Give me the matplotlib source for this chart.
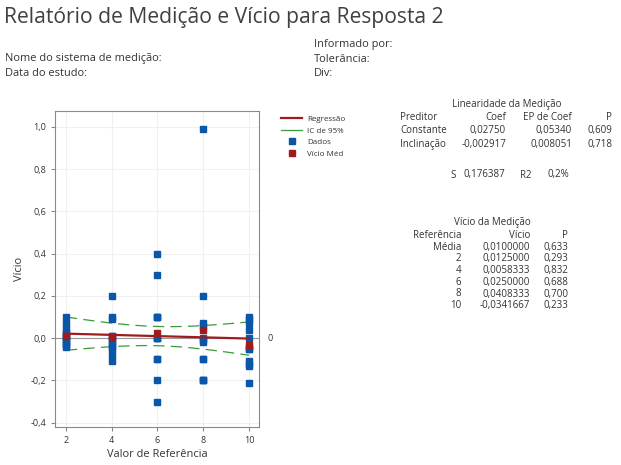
import numpy as np
import matplotlib
matplotlib.use("Agg")
import matplotlib.pyplot as plt
from matplotlib.lines import Line2D

plt.rcParams['font.family'] = ['Open Sans', 'DejaVu Sans']

# ---- data ----
references = [2, 4, 6, 8, 10]
bias_ref2 = [0.10, 0.07, 0.05, 0.03, 0.02, 0.01, 0.00, -0.01, -0.02, -0.03, -0.03, -0.04]
bias_ref4 = [0.20, 0.10, 0.09, 0.01, 0.01, -0.01, -0.02, -0.03, -0.04, -0.05, -0.08, -0.11]
bias_ref6 = [0.40, 0.30, 0.10, 0.10, 0.10, 0.00, 0.00, 0.00, -0.10, -0.10, -0.20, -0.30]
bias_ref8 = [0.99, 0.20, 0.07, 0.06, 0.00, -0.01, -0.02, -0.10, -0.10, -0.20, -0.20, -0.20]
bias_ref10 = [0.10, 0.09, 0.07, 0.04, 0.00, -0.04, -0.05, -0.05, -0.11, -0.12, -0.13, -0.21]
avg_bias = [0.0125, 0.0058333, 0.0250, 0.0408333, -0.0341667]

const_coef = 0.02750
slope_coef = -0.002917
s_value = 0.176387
t_crit = 2.0017

xticks = [2, 4, 6, 8, 10]
yticks = [-0.4, -0.2, 0.0, 0.2, 0.4, 0.6, 0.8, 1.0]
ytick_labels = ["-0,4", "-0,2", "0,0", "0,2", "0,4", "0,6", "0,8", "1,0"]

lin_header = ["Preditor", "Coef", "EP de Coef", "P"]
lin_rows = [["Constante", "0,02750", "0,05340", "0,609"],
            ["Inclinação", "-0,002917", "0,008051", "0,718"]]
bias_header = ["Referência", "Vício", "P"]
bias_rows = [["Média", "0,0100000", "0,633"],
             ["2", "0,0125000", "0,293"],
             ["4", "0,0058333", "0,832"],
             ["6", "0,0250000", "0,688"],
             ["8", "0,0408333", "0,700"],
             ["10", "-0,0341667", "0,233"]]

W, H = 621, 465
fig = plt.figure(figsize=(W / 100, H / 100), dpi=100)
fig.patch.set_facecolor('white')

def px(x, y):
    return x / W, 1 - y / H

txt_col = '#333333'
blue = '#0a56a8'
red = '#a01c1c'
green = '#3c9a3c'

# Title & header
fig.text(*px(4, 18), "Relatório de Medição e Vício para Resposta 2", fontsize=15.2,
         color='#404040', va='center', ha='left')
for yy, s in [(58, "Nome do sistema de medição:"), (73, "Data do estudo:")]:
    fig.text(*px(5, yy), s, fontsize=7.9, color=txt_col, va='center')
for yy, s in [(44, "Informado por:"), (59, "Tolerância:"), (73, "Div:")]:
    fig.text(*px(314, yy), s, fontsize=7.9, color=txt_col, va='center')

# Axes
ax = fig.add_axes([55 / W, (H - 427) / H, 204 / W, 316 / H])
ax.set_xlim(1.52, 10.44)
ax.set_ylim(-0.42, 1.075)
ax.set_xticks(xticks)
ax.set_xticklabels([str(v) for v in xticks])
ax.set_yticks(yticks)
ax.set_yticklabels(ytick_labels)
ax.tick_params(labelsize=6.5, colors=txt_col, length=3, color='#888888')
for sp in ax.spines.values():
    sp.set_color('#8a8a8a')
    sp.set_linewidth(0.8)
ax.grid(True, color='#f0f0f0', linewidth=0.8)
ax.set_axisbelow(True)
ax.set_xlabel("Valor de Referência", fontsize=7.9, color=txt_col, labelpad=3)
ax.set_ylabel("Vício", fontsize=7.9, color=txt_col, labelpad=4)

ax.axhline(0, color='#999999', linewidth=0.8, zorder=1)
ax.text(1.04, 0, "0", transform=ax.get_yaxis_transform(), fontsize=6.5,
        color=txt_col, va='center', ha='left')

all_bias = [bias_ref2, bias_ref4, bias_ref6, bias_ref8, bias_ref10]
for r, vals in zip(references, all_bias):
    ax.plot([r] * len(vals), vals, linestyle='none', marker='s', markersize=4.3,
            color=blue, zorder=3)

xs = np.linspace(references[0], references[-1], 100)
fit = const_coef + slope_coef * xs
n = sum(len(v) for v in all_bias)
xbar = np.mean(references)
sxx = sum(len(v) * (r - xbar) ** 2 for r, v in zip(references, all_bias))
se = s_value * np.sqrt(1 / n + (xs - xbar) ** 2 / sxx)
ax.plot(xs, fit + t_crit * se, color=green, linewidth=0.9, dashes=(9, 5), zorder=2)
ax.plot(xs, fit - t_crit * se, color=green, linewidth=0.9, dashes=(9, 5), zorder=2)
ax.plot(xs, fit, color=red, linewidth=1.6, zorder=4)
ax.plot(references, avg_bias, linestyle='none', marker='s', markersize=4.3,
        color=red, zorder=5)

# Legend
leg_items = [
    Line2D([0], [0], color=red, linewidth=1.6),
    Line2D([0], [0], color=green, linewidth=0.9),
    Line2D([0], [0], linestyle='none', marker='s', markersize=4, color=blue),
    Line2D([0], [0], linestyle='none', marker='s', markersize=4, color=red),
]
leg = fig.legend(leg_items, ["Regressão", "IC de 95%", "Dados", "Vício Méd"],
                 loc='upper left', bbox_to_anchor=px(278, 112), frameon=False,
                 fontsize=5.8, handlelength=2.6, labelspacing=0.5, handletextpad=0.6,
                 borderaxespad=0)
for t in leg.get_texts():
    t.set_color(txt_col)

fs = 7.0
# Linearity table
fig.text(*px(507, 104), "Linearidade da Medição", fontsize=fs, color=txt_col,
         ha='center', va='center')
col_x = [(400, 'left'), (506, 'right'), (572, 'right'), (612, 'right')]
for yy, row in zip([117, 130.5, 144], [lin_header] + lin_rows):
    for (cx, ha), s in zip(col_x, row):
        fig.text(*px(cx, yy), s, fontsize=fs, color=txt_col, ha=ha, va='center')
fig.text(*px(456, 175), "S", fontsize=fs, color=txt_col, ha='right', va='center')
fig.text(*px(505, 175), "0,176387", fontsize=fs, color=txt_col, ha='right', va='center')
fig.text(*px(520, 175), "R2", fontsize=fs, color=txt_col, ha='left', va='center')
fig.text(*px(569, 175), "0,2%", fontsize=fs, color=txt_col, ha='right', va='center')

# Bias table
fig.text(*px(492, 223), "Vício da Medição", fontsize=fs, color=txt_col,
         ha='center', va='center')
bcol = [461, 530, 568]
for i, row in enumerate([bias_header] + bias_rows):
    yy = 235.5 + i * 11.7
    for cx, s in zip(bcol, row):
        fig.text(*px(cx, yy), s, fontsize=fs, color=txt_col, ha='right', va='center')

fig.savefig("out.png", dpi=100, facecolor='white')
